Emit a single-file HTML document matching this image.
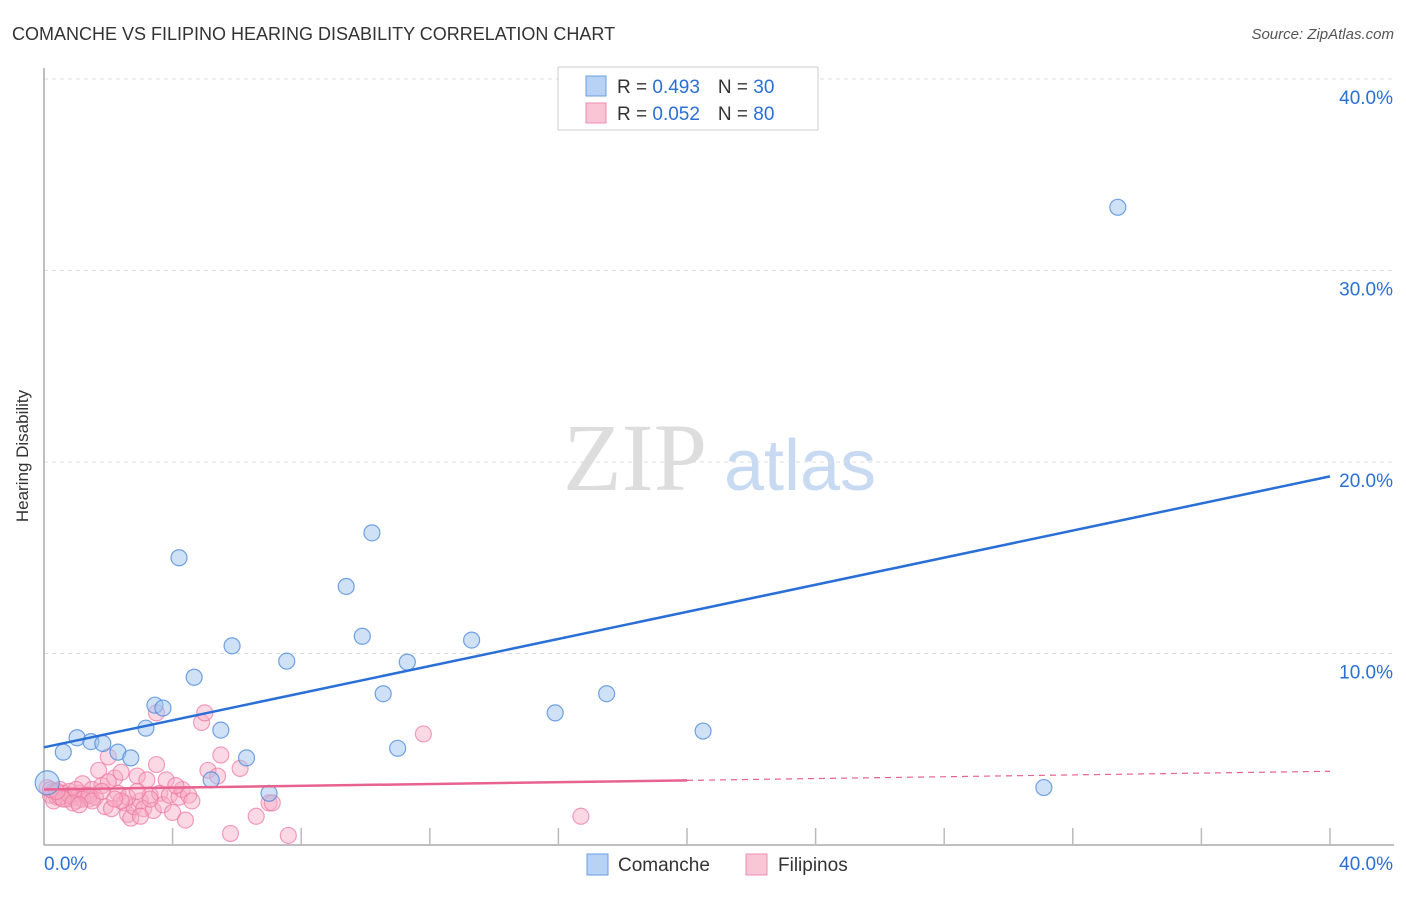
<!DOCTYPE html>
<html><head><meta charset="utf-8"><style>
body{margin:0;background:#fff;font-family:"Liberation Sans",sans-serif;}
</style></head><body>
<svg id="chart" width="1406" height="892" xmlns="http://www.w3.org/2000/svg">
<text x="12" y="40" font-size="18" fill="#333">COMANCHE VS FILIPINO HEARING DISABILITY CORRELATION CHART</text>
<text x="1394" y="39" font-size="15" fill="#555" font-style="italic" text-anchor="end">Source: ZipAtlas.com</text>
<text x="28" y="456" font-size="17" fill="#333" text-anchor="middle" transform="rotate(-90 28 456)">Hearing Disability</text>
<g>
<text x="635" y="490" font-size="96" font-family="Liberation Serif,serif" fill="#ddd" text-anchor="middle">ZIP</text>
<text x="800" y="490" font-size="72" fill="#c8daf2" text-anchor="middle">atlas</text>
</g>
<g id="grid"></g>
<g id="axes"></g>
<g id="pink"></g>
<g id="blue"></g>
<g id="lines"></g>
<g>
<rect x="558" y="67" width="260" height="63" fill="#fff" stroke="#ccc"/>
<rect x="586" y="76" width="20" height="20" fill="#b8d2f5" stroke="#6a9fe0"/>
<rect x="586" y="103" width="20" height="20" fill="#f9c6d6" stroke="#ef8fb0"/>
<text x="617" y="93" font-size="19" fill="#333">R = <tspan fill="#2a6fd6">0.493</tspan><tspan dx="18">N = </tspan><tspan fill="#2a6fd6">30</tspan></text>
<text x="617" y="120" font-size="19" fill="#333">R = <tspan fill="#2a6fd6">0.052</tspan><tspan dx="18">N = </tspan><tspan fill="#2a6fd6">80</tspan></text>
</g>
<g>
<rect x="587" y="854" width="21" height="21" fill="#b8d2f5" stroke="#6a9fe0"/>
<text x="618" y="871" font-size="19" fill="#333">Comanche</text>
<rect x="746" y="854" width="21" height="21" fill="#f9c6d6" stroke="#ef8fb0"/>
<text x="778" y="871" font-size="19" fill="#333">Filipinos</text>
</g>
</svg>
<script>
const yTicks=[10,20,30,40];
const xTickLabels=["0.0%","40.0%"];
const blueX=[33.4,10.2,4.2,9.4,5.85,9.9,13.3,7.55,11.3,4.67,10.55,17.5,3.45,3.7,15.9,3.17,5.5,20.5,1.03,1.46,1.83,0.6,2.3,2.7,6.3,11.0,5.2,7.0,31.1,0.1];
const blueY=[33.3,16.3,15.0,13.5,10.4,10.9,10.7,9.6,9.55,8.76,7.9,7.9,7.3,7.15,6.9,6.1,6.0,5.95,5.6,5.4,5.3,4.85,4.85,4.55,4.55,5.05,3.4,2.7,3.0,3.25];
const pinkX=[0.1,0.2,0.3,0.4,0.5,0.6,0.7,0.8,0.9,1.0,1.1,1.2,1.3,1.4,1.5,1.6,1.7,1.8,1.9,2.0,2.1,2.2,2.3,2.4,2.5,2.6,2.7,2.8,2.9,3.0,3.1,3.2,3.3,3.4,3.5,3.6,3.7,3.8,3.9,4.0,4.2,4.3,4.4,4.5,4.6,4.9,5.0,5.1,5.4,5.5,5.8,6.1,6.6,7.0,7.1,7.6,11.8,16.7,3.5,0.3,0.5,0.8,1.0,1.2,1.4,0.2,0.6,2.0,2.6,1.5,3.0,2.4,1.8,0.9,4.1,3.3,2.2,1.1,0.4,2.9];
const pinkY=[3.0,2.6,2.8,2.5,2.9,2.7,2.4,2.8,2.5,2.3,2.7,3.2,2.6,2.4,2.9,2.5,3.9,3.1,2.0,4.6,1.9,3.5,2.7,3.8,2.2,1.6,1.4,2.0,3.6,2.3,1.9,3.4,2.6,1.8,4.2,2.7,2.1,3.4,2.6,1.7,2.5,2.9,1.3,2.6,2.3,6.4,6.9,3.9,3.6,4.7,0.6,4.0,1.5,2.2,2.2,0.5,5.8,1.5,6.9,2.3,2.5,2.6,2.9,2.4,2.6,2.9,2.4,3.3,2.5,2.3,1.5,2.3,2.8,2.2,3.1,2.4,2.4,2.1,2.8,2.8];
const blueTrend=[5.1,19.25];
const pinkTrend=[2.9,3.85];
const NS="http://www.w3.org/2000/svg";
const X0=44,X1=1330,Y0=845,Y40=79;
const sx=v=>X0+(X1-X0)*v/40;
const sy=v=>Y0-(Y0-Y40)*v/40;
function mk(t,a,p){const e=document.createElementNS(NS,t);for(const k in a)e.setAttribute(k,a[k]);p.appendChild(e);return e;}
const grid=document.getElementById('grid');
yTicks.forEach(t=>{
 const l=mk('line',{x1:X0,x2:1394,y1:sy(t),y2:sy(t),stroke:'#ddd','stroke-dasharray':'4,4'},grid);
 
 
 const tx=mk('text',{x:1393,y:sy(t)+25,'font-size':19,fill:'#2a6fd6','text-anchor':'end'},grid);
 tx.textContent=t.toFixed(1)+'%';
 
 
});
const axes=document.getElementById('axes');
mk('line',{x1:X0,x2:X0,y1:68,y2:Y0,stroke:'#aaa','stroke-width':1.5},axes);
mk('line',{x1:X0,x2:1394,y1:Y0,y2:Y0,stroke:'#aaa','stroke-width':1.5},axes);
for(let i=1;i<=10;i++){const x=sx(i*4);mk('line',{x1:x,x2:x,y1:828,y2:Y0,stroke:'#bbb','stroke-width':1.5},axes);}
const l0=mk('text',{x:44,y:870,'font-size':19,fill:'#2a6fd6'},axes);l0.textContent=xTickLabels[0];


const l1=mk('text',{x:1393,y:870,'font-size':19,fill:'#2a6fd6','text-anchor':'end'},axes);l1.textContent=xTickLabels[1];


const pg=document.getElementById('pink');
pinkX.forEach((v,i)=>{const c=mk('circle',{cx:sx(v),cy:sy(pinkY[i]),r:8,fill:'rgba(246,170,195,0.45)',stroke:'rgba(236,120,160,0.7)','stroke-width':1.2},pg);
 
 });
const bg=document.getElementById('blue');
blueX.forEach((v,i)=>{const c=mk('circle',{cx:sx(v),cy:sy(blueY[i]),r:(i==29?12:8),fill:'rgba(160,196,240,0.5)',stroke:'rgba(80,140,220,0.8)','stroke-width':1.2},bg);
 
 });
const lg=document.getElementById('lines');
const b=mk('line',{x1:sx(0),y1:sy(blueTrend[0]),x2:sx(40),y2:sy(blueTrend[1]),stroke:'#2a6fd6','stroke-width':2.5},lg);


const pm=pinkTrend[0]+(pinkTrend[1]-pinkTrend[0])*20/40;
const p1=mk('line',{x1:sx(0),y1:sy(pinkTrend[0]),x2:sx(20),y2:sy(pm),stroke:'#e8628f','stroke-width':2.5},lg);


const p2=mk('line',{x1:sx(20),y1:sy(pm),x2:sx(40),y2:sy(pinkTrend[1]),stroke:'#e8628f','stroke-width':1.2,'stroke-dasharray':'6,5'},lg);


</script>
</body></html>
